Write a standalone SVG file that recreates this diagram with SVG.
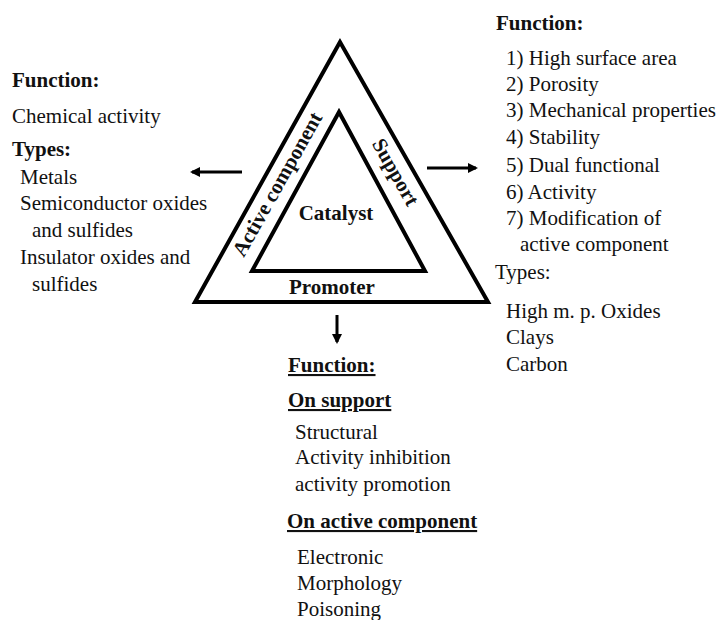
<svg xmlns="http://www.w3.org/2000/svg" width="725" height="620" viewBox="0 0 725 620">
<defs>
<style>
text{fill:#111}
.r{font-family:"Liberation Serif","DejaVu Serif",serif;font-size:21px;font-weight:normal}
.b{font-family:"Liberation Serif","DejaVu Serif",serif;font-size:21px;font-weight:bold}
.u{text-decoration:underline}
.tri{fill:none;stroke:#000;stroke-width:4;stroke-linejoin:miter}
.arr{stroke:#000;stroke-width:3;fill:none}
</style>
<marker id="ah" markerWidth="10" markerHeight="10" refX="8" refY="5" orient="auto" markerUnits="userSpaceOnUse">
<path d="M0,0 L10,5 L0,10 Z" fill="#000"/>
</marker>
</defs>
<rect width="725" height="620" fill="#fff"/>
<g id="catalyst-triangle">
<polygon class="tri" points="340,42 195,302 488,302"/>
<polygon class="tri" points="339,112 252,271 425,271"/>
<text class="b" x="336" y="220" text-anchor="middle">Catalyst</text>
<text class="b" x="332" y="294" text-anchor="middle">Promoter</text>
<text class="b" x="277" y="184" dy="0.35em" text-anchor="middle" transform="rotate(-60.7 277 184)">Active component</text>
<text class="b" x="396" y="172" dy="0.35em" text-anchor="middle" transform="rotate(60.6 396 172)">Support</text>
</g>
<g id="connectors">
<line class="arr" x1="242" y1="172" x2="192" y2="172" marker-end="url(#ah)"/>
<line class="arr" x1="427" y1="168" x2="476" y2="168" marker-end="url(#ah)"/>
<line class="arr" x1="337" y1="315" x2="337" y2="342" marker-end="url(#ah)"/>
</g>
<g id="active-component-info">
<text class="b" x="12" y="87">Function:</text>
<text class="r" x="12" y="123">Chemical activity</text>
<text class="b" x="12" y="156">Types:</text>
<text class="r" x="20" y="184">Metals</text>
<text class="r" x="20" y="210">Semiconductor oxides</text>
<text class="r" x="32" y="237">and sulfides</text>
<text class="r" x="20" y="264">Insulator oxides and</text>
<text class="r" x="32" y="291">sulfides</text>
</g>
<g id="support-info">
<text class="b" x="496" y="30">Function:</text>
<text class="r" x="506" y="65">1) High surface area</text>
<text class="r" x="506" y="91">2) Porosity</text>
<text class="r" x="506" y="117">3) Mechanical properties</text>
<text class="r" x="506" y="144">4) Stability</text>
<text class="r" x="506" y="172">5) Dual functional</text>
<text class="r" x="506" y="199">6) Activity</text>
<text class="r" x="506" y="225">7) Modification of</text>
<text class="r" x="520" y="251">active component</text>
<text class="r" x="495" y="279">Types:</text>
<text class="r" x="506" y="318">High m. p. Oxides</text>
<text class="r" x="506" y="344">Clays</text>
<text class="r" x="506" y="371">Carbon</text>
</g>
<g id="promoter-info">
<text class="b u" x="288" y="372">Function:</text>
<text class="b u" x="288" y="407">On support</text>
<text class="r" x="295" y="439">Structural</text>
<text class="r" x="295" y="464">Activity inhibition</text>
<text class="r" x="295" y="491">activity promotion</text>
<text class="b u" x="287" y="528">On active component</text>
<text class="r" x="297" y="564">Electronic</text>
<text class="r" x="297" y="590">Morphology</text>
<text class="r" x="297" y="616">Poisoning</text>
</g>
</svg>
